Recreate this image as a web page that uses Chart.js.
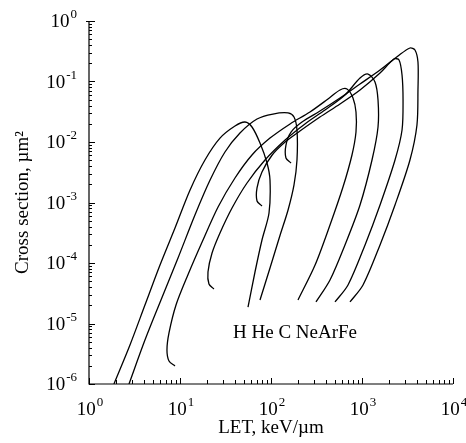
<!DOCTYPE html>
<html>
<head>
<meta charset="utf-8">
<script src="https://cdn.jsdelivr.net/npm/chart.js@4"></script>
<style>
  html, body { margin: 0; padding: 0; background: #fff; }
  canvas { display: block; }
</style>
</head>
<body>
<canvas id="sigmaChart" width="466" height="443"></canvas>
<script>
// Cross section vs LET, one curve per ion
const hLet = [1.88, 2.82, 4.12, 6.03, 8.81, 12.9, 18.8, 27.5, 40.2, 51.8, 61.8, 75.7, 90.4, 97.5, 95.1, 79.6, 66.7, 55.9];
const hSig = [1e-6, 4.41e-6, 2.02e-5, 9.27e-5, 3.79e-4, 1.61e-3, 5.04e-3, 1.16e-2, 1.84e-2, 2.14e-2, 1.77e-2, 9.62e-3, 4.5e-3, 2.35e-3, 6.7e-4, 2.4e-4, 7.1e-5, 1.87e-5];

const heLet = [2.75, 4.12, 6.18, 9.51, 14.6, 21.4, 31.2, 45.6, 70.2, 105, 154, 179, 193, 193, 179, 154, 126, 97.5, 75.7];
const heSig = [1e-6, 5.33e-6, 2.45e-5, 1.21e-4, 6.21e-4, 2.35e-3, 6.84e-3, 1.41e-2, 2.4e-2, 2.9e-2, 3.02e-2, 2.59e-2, 1.58e-2, 5.04e-3, 1.95e-3, 7.52e-4, 2.9e-4, 8.26e-5, 2.45e-5];

const cLet = [8.81, 7.57, 7.19, 7.57, 9.04, 12.2, 17.5, 26.2, 40.2, 61.8, 97.5, 162, 268, 423, 573, 684, 796, 859, 859, 776, 618, 445, 305, 198];
const cSig = [1.99e-6, 2.4e-6, 3.65e-6, 6.97e-6, 2.02e-5, 6.33e-5, 2.22e-4, 8.43e-4, 2.54e-3, 6.1e-3, 1.16e-2, 1.99e-2, 3.13e-2, 5.14e-2, 7.24e-2, 7.52e-2, 5.34e-2, 3.13e-2, 1.46e-2, 6.1e-3, 1.8e-3, 4.25e-4, 9.27e-5, 2.45e-5];

const neLet = [23.6, 20.8, 20.3, 22.5, 27.5, 37.3, 54.5, 85.9, 143, 236, 392, 650, 951, 1164, 1389, 1500, 1500, 1288, 951, 650, 445, 312];
const neSig = [3.72e-5, 4.5e-5, 7.1e-5, 1.46e-4, 3.13e-4, 8.11e-4, 2.1e-3, 5.04e-3, 1.08e-2, 1.99e-2, 3.38e-2, 5.98e-2, 0.114, 0.133, 9.82e-2, 4.94e-2, 1.77e-2, 5.04e-3, 9.1e-4, 1.99e-4, 5.24e-5, 2.27e-5];

const arLet = [79.6, 70.2, 70.2, 79.6, 103, 143, 208, 345, 573, 951, 1578, 2249, 2553, 2754, 2825, 2754, 2305, 1578, 1080, 702, 505];
const arSig = [8.75e-4, 1.06e-3, 1.74e-3, 3.19e-3, 6.1e-3, 1.0e-2, 1.52e-2, 2.59e-2, 4.25e-2, 7.24e-2, 0.138, 0.235, 0.227, 0.128, 4.94e-2, 1.58e-2, 5.04e-3, 9.1e-4, 1.99e-4, 4.33e-5, 2.27e-5];

const feLet = [166, 146, 146, 166, 219, 345, 573, 951, 1578, 2487, 3365, 3820, 4121, 4121, 4018, 3365, 2305, 1578, 1026, 738];
const feSig = [4.5e-3, 5.44e-3, 8.92e-3, 1.46e-2, 2.14e-2, 3.25e-2, 5.34e-2, 9.1e-2, 0.155, 0.264, 0.358, 0.332, 0.21, 7.24e-2, 1.91e-2, 5.04e-3, 9.1e-4, 1.99e-4, 4.33e-5, 2.27e-5];

const ionNames = ['H', 'He', 'C', 'Ne', 'Ar', 'Fe'];

// Axis decades
const xTickExp = [0, 1, 2, 3, 4];
const yTickExp = [0, -1, -2, -3, -4, -5, -6];

const serif = '"Liberation Serif", "DejaVu Serif", serif';

function toPoints(lets, sigs) {
  return lets.map((v, i) => ({ x: v, y: sigs[i] }));
}

function curve(label, lets, sigs) {
  return {
    label: label,
    data: toPoints(lets, sigs),
    showLine: true,
    borderColor: '#000',
    borderWidth: 1.3,
    pointRadius: 0,
    tension: 0.3,
    fill: false
  };
}

// draws 10 with a raised exponent; align = 'center' or 'right'
function drawPow(ctx, exp, x, base, align) {
  const main = '10';
  const sup = String(exp);
  ctx.font = '19px ' + serif;
  const w1 = ctx.measureText(main).width;
  ctx.font = '13px ' + serif;
  const w2 = ctx.measureText(sup).width;
  const total = w1 + w2 + 1;
  let start = align === 'right' ? x - total : x - total / 2;
  ctx.textAlign = 'left';
  ctx.textBaseline = 'alphabetic';
  ctx.font = '19px ' + serif;
  ctx.fillText(main, start, base);
  ctx.font = '13px ' + serif;
  ctx.fillText(sup, start + w1 + 1, base - 9);
}

const paperAxes = {
  id: 'paperAxes',
  afterDraw(chart) {
    const ctx = chart.ctx;
    const a = chart.chartArea;
    const xs = chart.scales.x;
    const ys = chart.scales.y;
    ctx.save();
    ctx.strokeStyle = '#000';
    ctx.fillStyle = '#000';
    ctx.lineWidth = 1.2;

    // axis lines (left and bottom only)
    ctx.beginPath();
    ctx.moveTo(a.left, a.top);
    ctx.lineTo(a.left, a.bottom);
    ctx.lineTo(a.right, a.bottom);
    ctx.stroke();

    // inward ticks
    ctx.lineWidth = 1;
    ctx.beginPath();
    for (let d = 0; d < 4; d++) {
      for (let m = 1; m <= 9; m++) {
        const px = Math.round(xs.getPixelForValue(m * Math.pow(10, d))) + 0.5;
        const len = m === 1 ? 6 : 4;
        ctx.moveTo(px, a.bottom);
        ctx.lineTo(px, a.bottom - len);
      }
    }
    const xEnd = Math.round(xs.getPixelForValue(1e4)) + 0.5;
    ctx.moveTo(xEnd, a.bottom);
    ctx.lineTo(xEnd, a.bottom - 6);

    for (let d = -6; d < 0; d++) {
      for (let m = 1; m <= 9; m++) {
        const py = Math.round(ys.getPixelForValue(m * Math.pow(10, d))) + 0.5;
        const len = m === 1 ? 6 : 3;
        ctx.moveTo(a.left, py);
        ctx.lineTo(a.left + len, py);
      }
    }
    const yTop = Math.round(ys.getPixelForValue(1)) + 0.5;
    ctx.moveTo(a.left - 3, yTop);
    ctx.lineTo(a.left + 6, yTop);
    ctx.stroke();

    // tick labels
    xTickExp.forEach(e => {
      drawPow(ctx, e, xs.getPixelForValue(Math.pow(10, e)) + 1, a.bottom + 31, 'center');
    });
    yTickExp.forEach(e => {
      drawPow(ctx, e, a.left - 12, ys.getPixelForValue(Math.pow(10, e)) + 6, 'right');
    });

    // axis titles
    ctx.font = '19px ' + serif;
    ctx.textAlign = 'center';
    ctx.fillText('LET, keV/\u00b5m', (a.left + a.right) / 2, a.bottom + 49);

    ctx.save();
    ctx.translate(28, (a.top + a.bottom) / 2);
    ctx.rotate(-Math.PI / 2);
    ctx.fillText('Cross section, \u00b5m\u00b2', 0, 0);
    ctx.restore();

    // ion names under the curve ends
    ctx.textAlign = 'left';
    ctx.font = '19px ' + serif;
    const labelText = ionNames[0] + ' ' + ionNames[1] + ' ' + ionNames[2] + ' ' + ionNames.slice(3).join('');
    ctx.fillText(labelText, 233, 338);

    ctx.restore();
  }
};

const sigmaCtx = document.getElementById('sigmaChart').getContext('2d');
const sigmaChart = new Chart(sigmaCtx, {
  type: 'scatter',
  data: {
    datasets: [
      curve('H', hLet, hSig),
      curve('He', heLet, heSig),
      curve('C', cLet, cSig),
      curve('Ne', neLet, neSig),
      curve('Ar', arLet, arSig),
      curve('Fe', feLet, feSig)
    ]
  },
  options: {
    responsive: false,
    animation: false,
    devicePixelRatio: 1,
    layout: {
      padding: { top: 21, right: 13, bottom: 59, left: 89 }
    },
    plugins: {
      legend: { display: false },
      tooltip: { enabled: false }
    },
    scales: {
      x: { type: 'logarithmic', min: 1, max: 10000, display: false },
      y: { type: 'logarithmic', min: 1e-6, max: 1, display: false }
    }
  },
  plugins: [paperAxes]
});
</script>
</body>
</html>
